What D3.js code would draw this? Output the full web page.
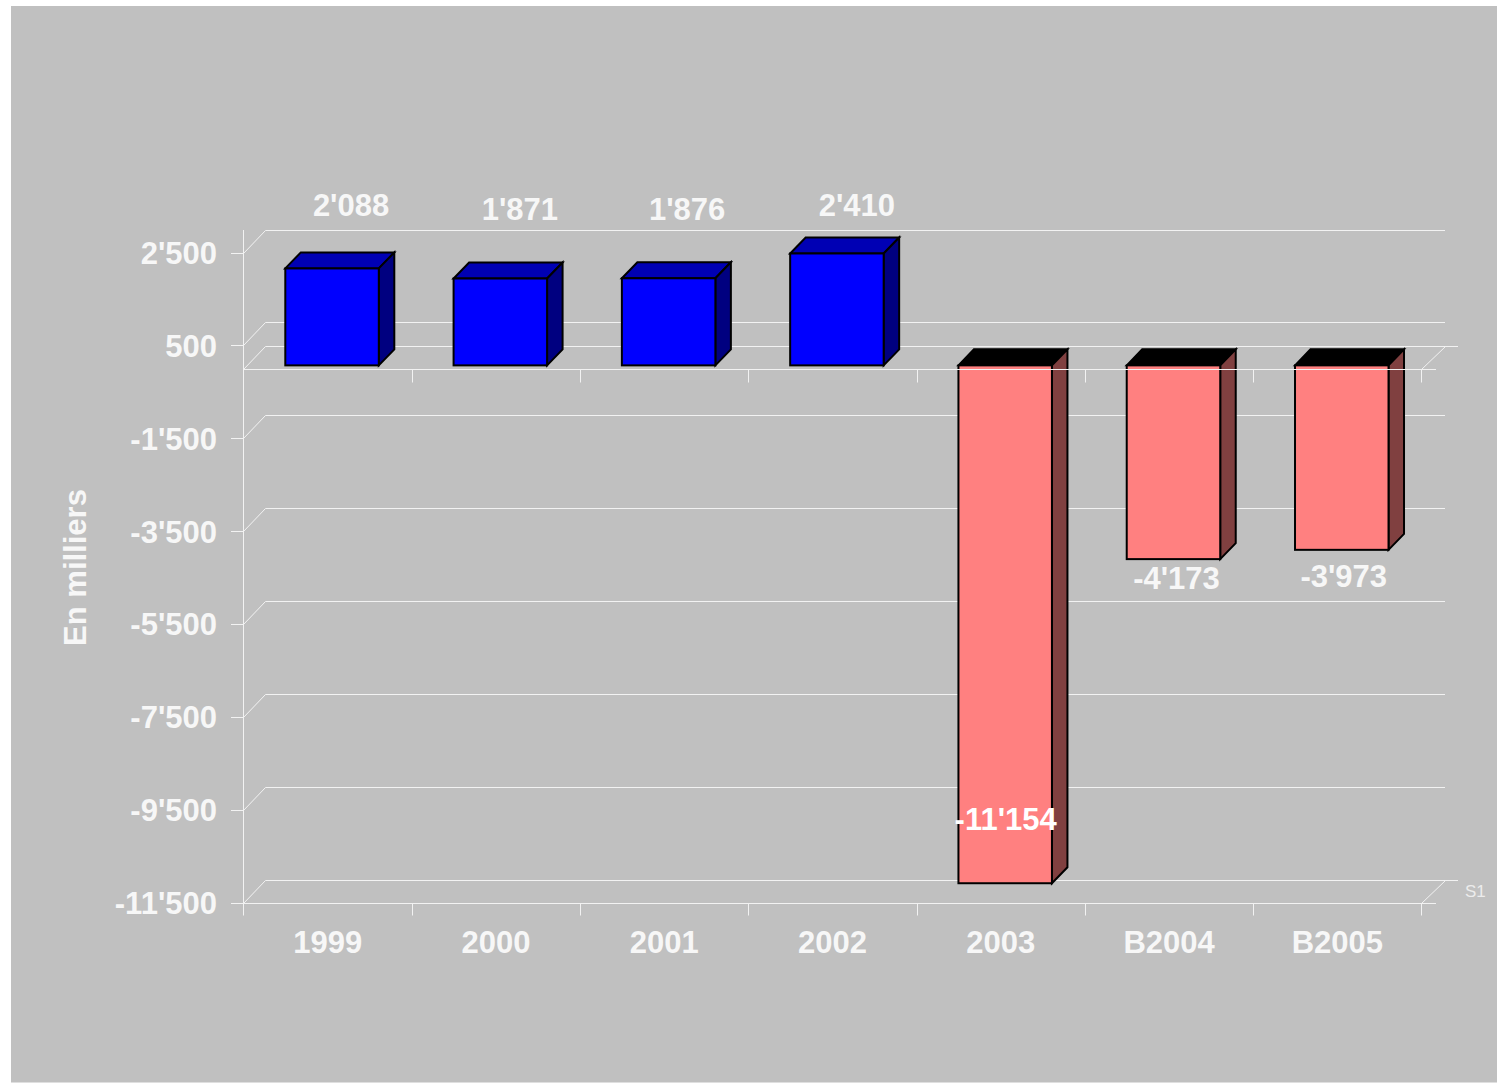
<!DOCTYPE html>
<html><head><meta charset="utf-8">
<script src="https://cdn.jsdelivr.net/npm/d3@7"></script>
<style>html,body{margin:0;padding:0;background:#fff}svg{display:block}text{font-family:"Liberation Sans",Arial,sans-serif;font-weight:bold}</style>
</head><body><svg id="c" width="1497" height="1083"></svg>
<script>
const categories = ["1999","2000","2001","2002","2003","B2004","B2005"];
const values = [2088,1871,1876,2410,-11154,-4173,-3973];
const valueLabels = ["2'088","1'871","1'876","2'410","-11'154","-4'173","-3'973"];
const yTicks = [2500,500,-1500,-3500,-5500,-7500,-9500,-11500];
const yTickLabels = ["2'500","500","-1'500","-3'500","-5'500","-7'500","-9'500","-11'500"];
const labelNudgeX = [19,19.5,18.5,20,0.5,3,2];
const labelNudgeY = [-63,-69,-69,-48,-64,19,26];

const svg = d3.select("#c");
const y = d3.scaleLinear().domain([-11500,2500]).range([903,253]);
const x = d3.scaleBand().domain(categories).range([244,1422]);
const depthGrid = {dx:22,dy:-23}, depthBar = {dx:15.5,dy:-16};
const txt = "#f7f7f7", line = "#f2f2f2";

svg.append("rect").attr("x",11).attr("y",6).attr("width",1486).attr("height",1076.5).attr("fill","#c0c0c0");

const g = svg.append("g").attr("fill","none").attr("stroke",line).attr("stroke-width",1);
const gd = svg.append("g").attr("fill","none").attr("stroke",line).attr("stroke-width",1);
const seg = (p,x1,y1,x2,y2)=>p.append("line").attr("x1",x1).attr("y1",y1).attr("x2",x2).attr("y2",y2);
const xL = 243.5, xR = 1421.5;
const row = v => Math.floor(y(v)) + 0.5;
yTicks.forEach(t=>{
  const yy = row(t);
  seg(g,231,yy,xL,yy);
  seg(gd,xL,yy,xL+depthGrid.dx,yy+depthGrid.dy);
  seg(g,xL+depthGrid.dx,yy+depthGrid.dy,t===-11500?1458:1445,yy+depthGrid.dy);
});
// floor back edge and side diagonals
const zy = row(0);
const by = row(-11500);
seg(gd,xL,zy,xL+depthGrid.dx,zy+depthGrid.dy);
seg(g,xL+depthGrid.dx,zy+depthGrid.dy,1458,zy+depthGrid.dy);
seg(gd,xR,zy,xR+24,zy+depthGrid.dy);
seg(gd,xR,by,xR+24,by+depthGrid.dy);
seg(g,xL,230,xL,915);
seg(g,xL,by,1436,by);

// bars
const bars = svg.append("g").attr("stroke","#000").attr("stroke-width",2).attr("stroke-linejoin","miter");
const barW = 93.5, barShift = 41.3;
const barOffsetY = -3.7;
categories.forEach((c,i)=>{
  const v = values[i];
  const xa = x(c)+barShift, xb = xa+barW;
  const yBase = y(0)+barOffsetY, yEnd = y(v)+barOffsetY;
  const top = Math.min(yBase,yEnd), bot = Math.max(yBase,yEnd);
  const d = depthBar;
  const neg = v<0;
  bars.append("polygon").attr("fill",neg?"#000":"#0000b4")
    .attr("points",[[xa,top],[xa+d.dx,top+d.dy],[xb+d.dx,top+d.dy],[xb,top]].join(" "));
  bars.append("polygon").attr("fill",neg?"#804040":"#000080")
    .attr("points",[[xb,top],[xb+d.dx,top+d.dy],[xb+d.dx,bot+d.dy],[xb,bot]].join(" "));
  bars.append("rect").attr("x",xa).attr("y",top).attr("width",barW).attr("height",bot-top).attr("fill",neg?"#ff8080":"#0000ff");
});

// zero axis over bars
const ax = svg.append("g").attr("stroke",line).attr("stroke-width",1);
seg(ax,xL,zy,1436,zy);
const edges = categories.slice(1).map(c=>Math.floor(x(c))+0.5).concat([xL,xR]);
edges.forEach(ex=>{ seg(ax,ex,zy,ex,zy+13); seg(ax,ex,by,ex,by+12); });

// text
const T = svg.append("g").attr("font-size",31).attr("fill",txt);
yTicks.forEach((t,i)=>T.append("text").attr("x",217).attr("y",y(t)+11).attr("text-anchor","end").text(yTickLabels[i]));
categories.forEach(c=>T.append("text").attr("x",x(c)+x.bandwidth()/2-0.5).attr("y",953).attr("text-anchor","middle").text(c));
T.append("text").attr("transform","translate(86,567.5) rotate(-90)").attr("text-anchor","middle").text("En milliers");
categories.forEach((c,i)=>{
  const v = values[i];
  T.append("text").attr("x",x(c)+barShift+barW/2+labelNudgeX[i]).attr("y",y(v)-3+labelNudgeY[i]+10)
   .attr("text-anchor","middle").attr("fill",i===4?"#fff":txt).text(valueLabels[i]);
});
svg.append("text").attr("x",1465).attr("y",897).attr("font-size",17).attr("fill","#ececec").style("font-weight","normal").text("S1");
</script></body></html>
